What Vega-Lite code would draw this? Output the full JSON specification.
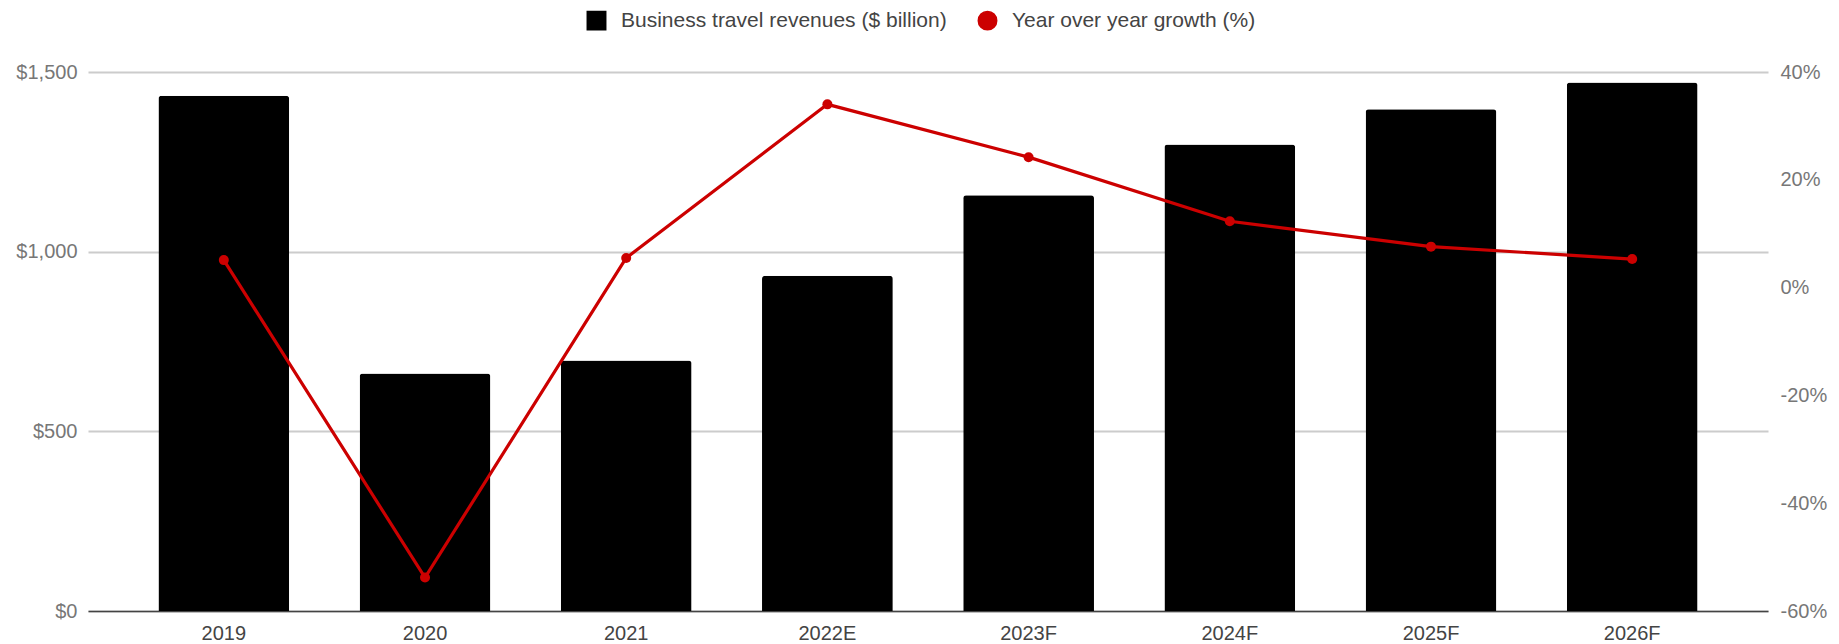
{
  "$schema": "https://vega.github.io/schema/vega-lite/v6.json",
  "width": 1680,
  "height": 539,
  "autosize": "none",
  "padding": {"left": 88, "top": 72, "right": 71, "bottom": 33},
  "config": {
    "view": {"stroke": null},
    "font": "Liberation Sans",
    "axis": {"labelFont": "Liberation Sans", "ticks": false, "domain": false, "grid": false}
  },
  "data": {
    "values": [
      {"year": "2019", "revenue": 1434, "growth": 5.1},
      {"year": "2020", "revenue": 661, "growth": -53.8},
      {"year": "2021", "revenue": 697, "growth": 5.5},
      {"year": "2022E", "revenue": 933, "growth": 34.0},
      {"year": "2023F", "revenue": 1157, "growth": 24.2},
      {"year": "2024F", "revenue": 1298, "growth": 12.3},
      {"year": "2025F", "revenue": 1396, "growth": 7.6},
      {"year": "2026F", "revenue": 1471, "growth": 5.3}
    ]
  },
  "encoding": {
    "x": {
      "field": "year",
      "type": "ordinal",
      "sort": null,
      "scale": {"paddingInner": 0.35, "paddingOuter": 0.35},
      "axis": {
        "title": null,
        "labelAngle": 0,
        "labelFontSize": 20,
        "labelColor": "#444444",
        "labelPadding": 12,
        "domain": true,
        "domainColor": "#444444",
        "domainWidth": 1.5
      }
    }
  },
  "layer": [
    {
      "mark": {"type": "bar", "cornerRadiusTopLeft": 3, "cornerRadiusTopRight": 3},
      "encoding": {
        "y": {
          "field": "revenue",
          "type": "quantitative",
          "scale": {"domain": [0, 1500]},
          "axis": {
            "title": null,
            "orient": "left",
            "values": [0, 500, 1000, 1500],
            "format": "$,.0f",
            "labelFontSize": 20,
            "labelColor": "#777777",
            "labelPadding": 11,
            "grid": true,
            "gridColor": "#cccccc",
            "gridWidth": 2
          }
        },
        "color": {
          "datum": "Business travel revenues ($ billion)",
          "scale": {
            "domain": ["Business travel revenues ($ billion)", "Year over year growth (%)"],
            "range": ["#000000", "#cc0000"]
          },
          "legend": {
            "orient": "none",
            "legendX": 498,
            "legendY": -62,
            "direction": "horizontal",
            "title": null,
            "symbolSize": 340,
            "labelFont": "Liberation Sans",
            "labelFontSize": 21,
            "labelColor": "#444444",
            "labelOffset": 14,
            "labelLimit": 600,
            "columnPadding": 28,
            "encode": {
              "symbols": {
                "update": {
                  "shape": {"signal": "datum.value === 'Year over year growth (%)' ? 'circle' : 'square'"},
                  "fill": {"signal": "datum.value === 'Year over year growth (%)' ? '#cc0000' : '#000000'"},
                  "stroke": {"value": "transparent"},
                  "opacity": {"value": 1}
                }
              }
            }
          }
        }
      }
    },
    {
      "encoding": {
        "y": {
          "field": "growth",
          "type": "quantitative",
          "scale": {"domain": [-60, 40], "zero": false},
          "axis": {
            "title": null,
            "orient": "right",
            "values": [-60, -40, -20, 0, 20, 40],
            "labelExpr": "datum.value + '%'",
            "labelFontSize": 20,
            "labelColor": "#777777",
            "labelPadding": 12
          }
        },
        "color": {"datum": "Year over year growth (%)"}
      },
      "layer": [
        {"mark": {"type": "line", "strokeWidth": 3.2}},
        {"mark": {"type": "point", "filled": true, "size": 100, "opacity": 1}}
      ]
    }
  ],
  "resolve": {"scale": {"y": "independent"}}
}
